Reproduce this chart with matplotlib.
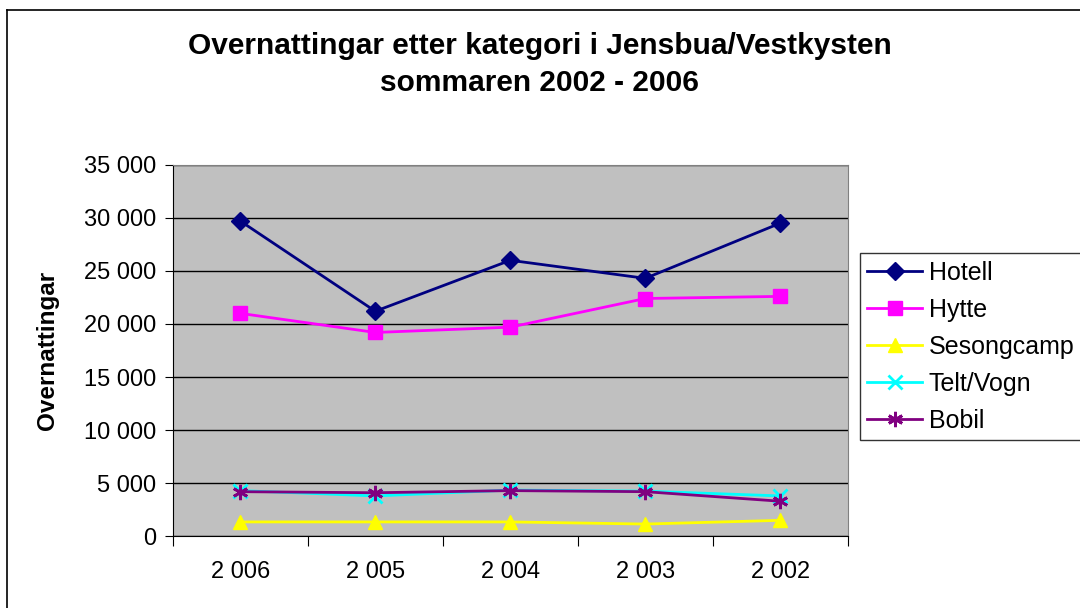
import matplotlib.pyplot as plt
import numpy as np

plt.rcParams['font.family'] = ['Liberation Sans', 'DejaVu Sans']

years = ["2 006", "2 005", "2 004", "2 003", "2 002"]
hotell = [29700, 21200, 26000, 24300, 29500]
hytte = [21000, 19200, 19700, 22400, 22600]
sesongcamp = [1350, 1350, 1350, 1150, 1500]
telt_vogn = [4300, 3800, 4350, 4250, 3800]
bobil = [4200, 4100, 4300, 4200, 3300]

series = [
    ("Hotell", hotell, "#000080", "D", 9),
    ("Hytte", hytte, "#FF00FF", "s", 10),
    ("Sesongcamp", sesongcamp, "#FFFF00", "^", 10),
    ("Telt/Vogn", telt_vogn, "#00FFFF", "x", 10),
    ("Bobil", bobil, "#800080", (6, 2, 0), 11),
]

fig = plt.figure(figsize=(10.8, 6.08), dpi=100)
ax = fig.add_axes([0.160, 0.118, 0.625, 0.611])
ax.set_facecolor("#C0C0C0")

x = np.arange(len(years))
for name, vals, col, mk, ms in series:
    ax.plot(x, vals, color=col, marker=mk, markersize=ms, linewidth=2,
            markeredgewidth=2 if mk in ("x",) or isinstance(mk, tuple) else 1,
            label=name, zorder=3)

ax.set_ylim(0, 35000)
ax.set_xlim(-0.5, len(years) - 0.5)
ax.set_yticks(np.arange(0, 35001, 5000))
ax.set_yticklabels(["0" if v == 0 else f"{v // 1000} 000" for v in range(0, 35001, 5000)],
                   fontsize=17)
ax.yaxis.grid(True, color="black", linewidth=1)
ax.set_axisbelow(True)

# category ticks between labels, labels at centres
ax.set_xticks(np.arange(-0.5, len(years), 1.0))
ax.set_xticklabels([])
ax.set_xticks(x, minor=True)
ax.set_xticklabels(years, minor=True, fontsize=17)
ax.tick_params(axis="x", which="minor", length=0, pad=18)
ax.tick_params(axis="x", which="major", length=7, direction="out")
ax.tick_params(axis="y", length=6, direction="out", pad=6)

for s in ["top", "right"]:
    ax.spines[s].set_color("#808080")
ax.spines["left"].set_color("black")
ax.spines["bottom"].set_color("black")

ax.set_ylabel("Overnattingar", fontsize=17.5, fontweight="bold", labelpad=18)

fig.suptitle("Overnattingar etter kategori i Jensbua/Vestkysten\nsommaren 2002 - 2006",
             fontsize=21.5, fontweight="bold", y=0.947, linespacing=1.4)

leg = ax.legend(loc="center left", bbox_to_anchor=(1.018, 0.51), fontsize=18,
                frameon=True, fancybox=False, edgecolor="black", borderaxespad=0,
                handlelength=2.2, labelspacing=0.52, borderpad=0.3, handletextpad=0.25)
leg.get_frame().set_linewidth(1)

# chart border (only top and left edges are visible in the crop)
fig.add_artist(plt.Line2D([0.0065, 1.0], [0.984, 0.984], color="black", linewidth=1.2))
fig.add_artist(plt.Line2D([0.0065, 0.0065], [0.0, 0.984], color="black", linewidth=1.2))

fig.savefig("out.png", dpi=100)
